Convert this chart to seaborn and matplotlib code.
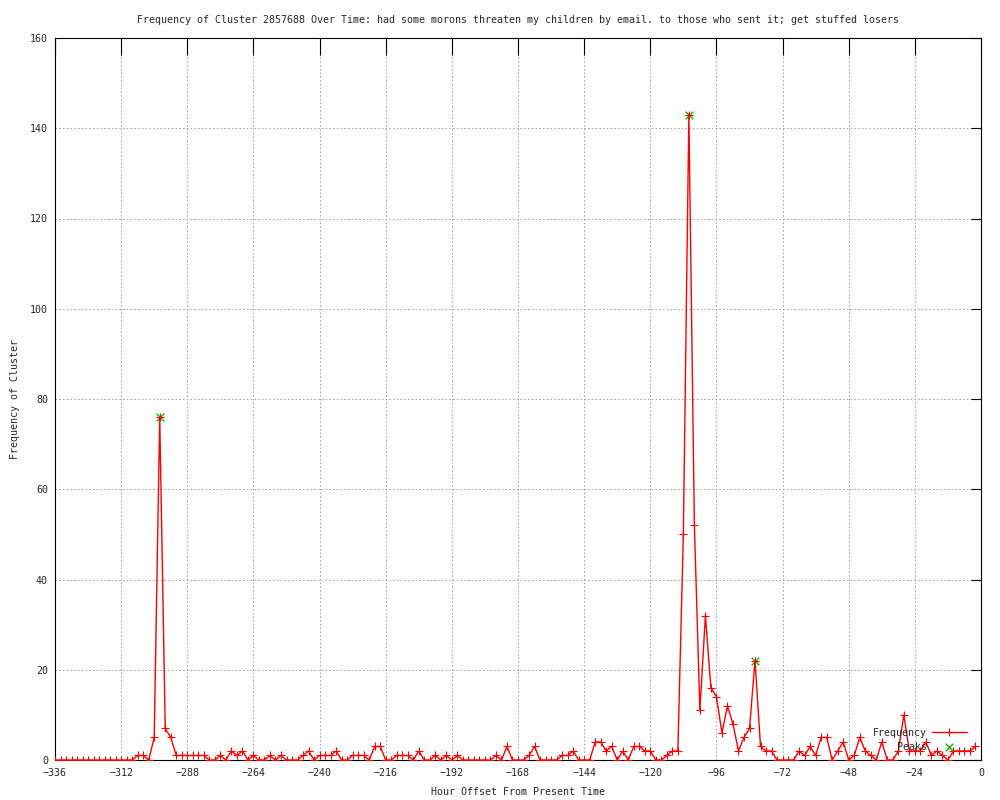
import numpy as np
import pandas as pd
import matplotlib
matplotlib.use("Agg")
import matplotlib.pyplot as plt
import seaborn as sns

# hour offsets, one bin every 2 hours from -336 up to -2
hours = np.arange(-336, 0, 2)

# cluster frequency per 2-hour bin
freq = [
    0, 0, 0, 0, 0, 0, 0, 0, 0, 0, 0, 0, 0, 0, 0, 1, 1, 0, 5, 76,
    7, 5, 1, 1, 1, 1, 1, 1, 0, 0, 1, 0, 2, 1, 2, 0, 1, 0, 0, 1,
    0, 1, 0, 0, 0, 1, 2, 0, 1, 1, 1, 2, 0, 0, 1, 1, 1, 0, 3, 3,
    0, 0, 1, 1, 1, 0, 2, 0, 0, 1, 0, 1, 0, 1, 0, 0, 0, 0, 0, 0,
    1, 0, 3, 0, 0, 0, 1, 3, 0, 0, 0, 0, 1, 1, 2, 0, 0, 0, 4, 4,
    2, 3, 0, 2, 0, 3, 3, 2, 2, 0, 0, 1, 2, 2, 50, 143, 52, 11, 32, 16,
    14, 6, 12, 8, 2, 5, 7, 22, 3, 2, 2, 0, 0, 0, 0, 2, 1, 3, 1, 5,
    5, 0, 2, 4, 0, 1, 5, 2, 1, 0, 4, 0, 0, 2, 10, 2, 2, 2, 4, 1,
    2, 1, 0, 2, 2, 2, 2, 3,
]

# detected peaks
peak_hours = [-298, -106, -82]
peak_freq = [76, 143, 22]

title = ("Frequency of Cluster 2857688 Over Time: had some morons threaten "
         "my children by email. to those who sent it; get stuffed losers")

df = pd.DataFrame({"hour": hours, "freq": freq})
peaks = pd.DataFrame({"hour": peak_hours, "freq": peak_freq})

sns.set_style("white")
plt.rcParams["font.family"] = ["DejaVu Sans Mono"]
plt.rcParams["font.size"] = 7.2

fig = plt.figure(figsize=(10, 8), dpi=100)
ax = fig.add_axes([0.055, 0.05, 0.926, 0.9025])

sns.scatterplot(data=peaks, x="hour", y="freq", ax=ax, marker="x", s=30,
                color="#00c000", linewidth=1, label="Peaks", zorder=3)
sns.lineplot(data=df, x="hour", y="freq", ax=ax, color="red", linewidth=1,
             marker="+", markersize=5.5, markeredgewidth=0.8,
             markeredgecolor="red", label="Frequency", zorder=4)

ax.set_xlim(-336, 0)
ax.set_ylim(0, 160)
ax.set_xticks(range(-336, 1, 24))
ax.set_yticks(range(0, 161, 20))
ax.tick_params(direction="in", length=12, width=0.8, color="black",
               top=True, right=True, labelsize=7.2)
ax.tick_params(axis="x", pad=6)
ax.tick_params(axis="y", pad=5, length=7)

ax.grid(True, color="#a8a8a8", linestyle=(0, (1.6, 2.0)), linewidth=0.75)
ax.set_axisbelow(True)
for sp in ax.spines.values():
    sp.set_color("black")
    sp.set_linewidth(0.8)

ax.set_title(title, fontsize=7.2, pad=11)
ax.set_xlabel("Hour Offset From Present Time", fontsize=7.2, labelpad=6)
ax.set_ylabel("Frequency of Cluster", fontsize=7.2, labelpad=7)

handles, labels = ax.get_legend_handles_labels()
order = [labels.index("Frequency"), labels.index("Peaks")]
ax.legend([handles[i] for i in order], [labels[i] for i in order],
          loc="lower right", bbox_to_anchor=(0.992, 0.002), frameon=False,
          markerfirst=False, handlelength=3.5, handletextpad=0.5,
          labelspacing=0.4, borderpad=0.2, fontsize=7.2)

fig.savefig("out.png", dpi=100)
